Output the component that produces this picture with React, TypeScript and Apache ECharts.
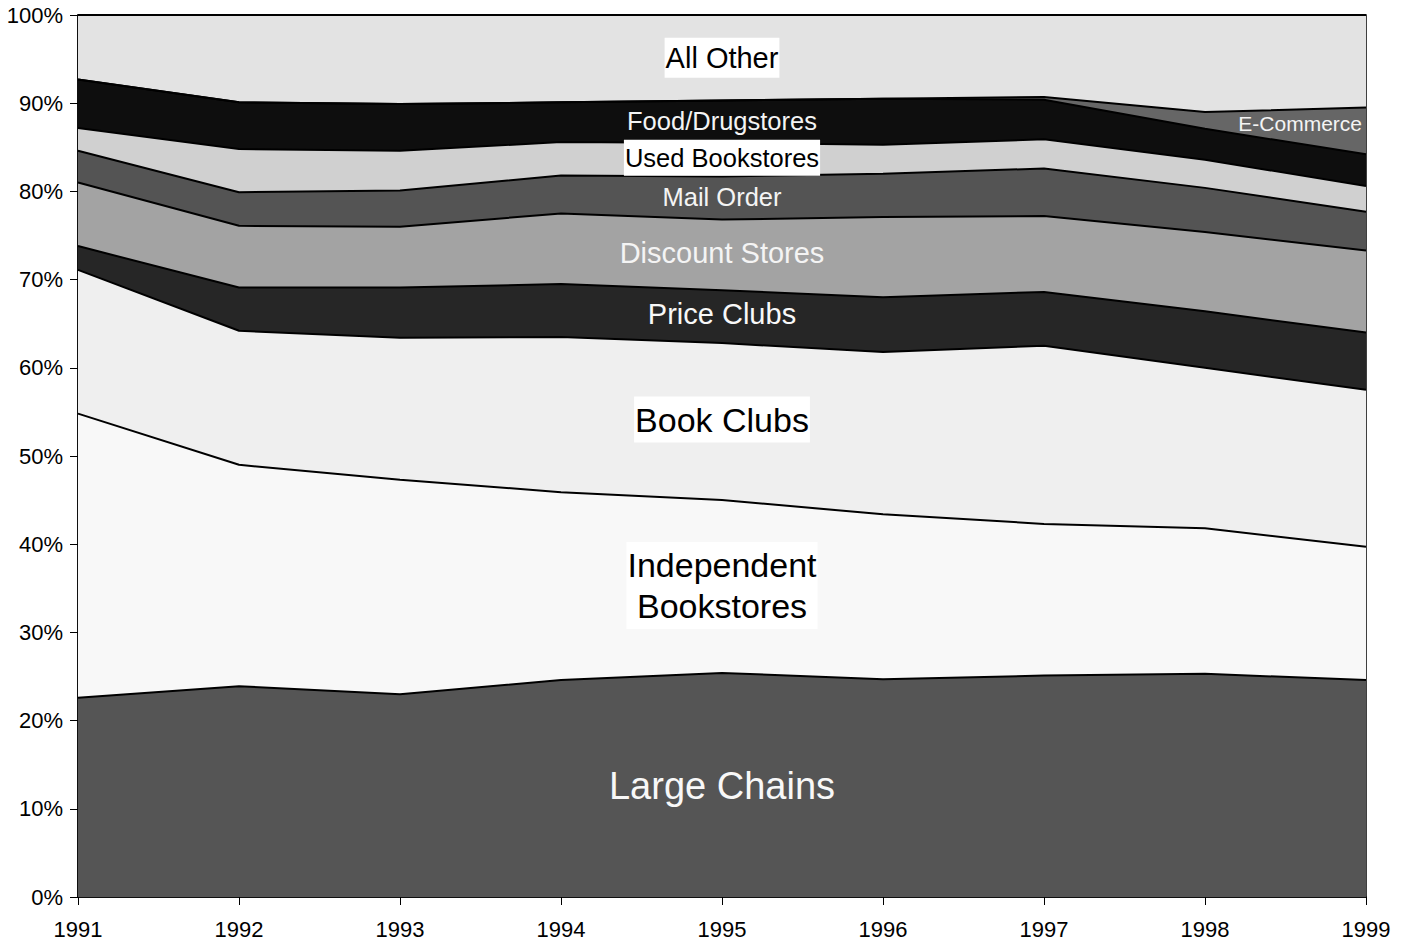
import React, { useEffect, useRef } from "react";
import * as echarts from "echarts";

const years = ["1991", "1992", "1993", "1994", "1995", "1996", "1997", "1998", "1999"];
const largeChains = [22.6, 23.9, 23.0, 24.6, 25.4, 24.7, 25.1, 25.3, 24.6];
const independent = [32.2, 25.1, 24.3, 21.3, 19.6, 18.7, 17.2, 16.5, 15.1];
const bookClubs = [16.3, 15.2, 16.1, 17.6, 17.8, 18.4, 20.2, 18.2, 17.8];
const priceClubs = [2.7, 4.9, 5.7, 6.0, 6.0, 6.2, 6.1, 6.4, 6.5];
const discountStores = [7.2, 7.0, 6.9, 8.0, 8.0, 9.1, 8.6, 9.0, 9.3];
const mailOrder = [3.6, 3.8, 4.1, 4.3, 4.9, 4.9, 5.4, 5.0, 4.4];
const usedBookstores = [2.6, 4.9, 4.5, 3.8, 3.8, 3.3, 3.3, 3.2, 2.9];
const foodDrug = [5.5, 5.3, 5.3, 4.5, 4.8, 5.2, 4.5, 3.5, 3.6];
const eCommerce = [0, 0, 0, 0, 0, 0, 0.3, 1.9, 5.3];
const allOther = [7.3, 9.9, 10.1, 9.9, 9.7, 9.5, 9.3, 11.0, 10.5];
const yTicks = [0, 10, 20, 30, 40, 50, 60, 70, 80, 90, 100];

const FONT = "Liberation Sans, Arial, sans-serif";

type Band = {
  name: string;
  data: number[];
  color: string;
  label: string;
  size: number;
  textColor: string;
  bg?: string;
  dy: number;
};

const bands: Band[] = [
  { name: "Large Chains", data: largeChains, color: "#555555", label: "Large Chains", size: 38, textColor: "#f8f8f8", dy: 1 },
  { name: "Independent Bookstores", data: independent, color: "#f8f8f8", label: "Independent\nBookstores", size: 34, textColor: "#000000", bg: "#ffffff", dy: -1 },
  { name: "Book Clubs", data: bookClubs, color: "#efefef", label: "Book Clubs", size: 34, textColor: "#000000", bg: "#ffffff", dy: -2 },
  { name: "Price Clubs", data: priceClubs, color: "#262626", label: "Price Clubs", size: 29, textColor: "#f8f8f8", dy: -3 },
  { name: "Discount Stores", data: discountStores, color: "#a3a3a3", label: "Discount Stores", size: 29, textColor: "#f4f4f4", dy: -2 },
  { name: "Mail Order", data: mailOrder, color: "#545454", label: "Mail Order", size: 25.5, textColor: "#f4f4f4", dy: -1 },
  { name: "Used Bookstores", data: usedBookstores, color: "#d0d0d0", label: "Used Bookstores", size: 25.5, textColor: "#000000", bg: "#ffffff", dy: -2 },
  { name: "Food/Drugstores", data: foodDrug, color: "#0e0e0e", label: "Food/Drugstores", size: 25.5, textColor: "#f4f4f4", dy: -1 },
  { name: "E-Commerce", data: eCommerce, color: "#666666", label: "E-Commerce", size: 21, textColor: "#f4f4f4", dy: -7 },
  { name: "All Other", data: allOther, color: "#e3e3e3", label: "All Other", size: 29, textColor: "#000000", bg: "#ffffff", dy: 0 },
];

export default function App() {
  const ref = useRef<HTMLDivElement>(null);
  useEffect(() => {
    if (!ref.current) return;
    const chart = echarts.init(ref.current, null, { renderer: "svg" });
    chart.setOption({
      animation: false,
      backgroundColor: "#ffffff",
      grid: {
        left: 78,
        right: 43,
        top: 15,
        bottom: 46,
        show: true,
        borderColor: "#000000",
        borderWidth: 1.5,
        backgroundColor: "transparent",
      },
      xAxis: {
        type: "category",
        data: years,
        boundaryGap: false,
        axisLine: { lineStyle: { color: "#000", width: 1.5 } },
        axisTick: { show: true, length: 8, alignWithLabel: true, lineStyle: { color: "#000" } },
        axisLabel: { color: "#000", fontFamily: FONT, fontSize: 22, margin: 21 },
        splitLine: { show: false },
      },
      yAxis: {
        type: "value",
        min: 0,
        max: 100,
        interval: 10,
        axisLine: { show: true, lineStyle: { color: "#000", width: 1.5 } },
        axisTick: { show: true, length: 8, lineStyle: { color: "#000" } },
        axisLabel: {
          color: "#000",
          fontFamily: FONT,
          fontSize: 22,
          margin: 15,
          formatter: (v: number) => (yTicks.includes(v) ? `${v}%` : ""),
        },
        splitLine: { show: false },
      },
      series: bands.map((b) => ({
        name: b.name,
        type: "line",
        stack: "total",
        data: b.data,
        showSymbol: false,
        symbol: "none",
        lineStyle: { color: "#000000", width: 2 },
        areaStyle: { color: b.color, opacity: 1 },
        z: 2,
      })),
    });

    // labels placed at band mid-points computed from the data
    const cum = (upTo: number, idx: number) => {
      let s = 0;
      for (let i = 0; i < upTo; i++) s += bands[i].data[idx];
      return s;
    };
    const labelIdx = 4;
    const graphics: any[] = [];
    bands.forEach((b, i) => {
      if (b.name === "E-Commerce") return;
      const mid = cum(i, labelIdx) + b.data[labelIdx] / 2;
      const p = chart.convertToPixel({ gridIndex: 0 }, [labelIdx, mid]) as number[];
      graphics.push({
        type: "text",
        x: p[0],
        y: p[1] + b.dy,
        z: 10,
        style: {
          text: b.label,
          fill: b.textColor,
          font: `${b.size}px ${FONT}`,
          align: "center",
          verticalAlign: "middle",
          lineHeight: Math.round(b.size * 1.2),
          backgroundColor: b.bg,
          padding: b.bg ? [3, 1, 2, 1] : 0,
        },
      });
    });
    {
      const i = bands.findIndex((b) => b.name === "E-Commerce");
      const last = years.length - 1;
      const mid = cum(i, last) + bands[i].data[last] / 2;
      const p = chart.convertToPixel({ gridIndex: 0 }, [last, mid]) as number[];
      graphics.push({
        type: "text",
        x: p[0] - 4,
        y: p[1] + bands[i].dy,
        z: 10,
        style: {
          text: bands[i].label,
          fill: bands[i].textColor,
          font: `${bands[i].size}px ${FONT}`,
          align: "right",
          verticalAlign: "middle",
        },
      });
    }
    chart.setOption({ graphic: graphics });
    return () => chart.dispose();
  }, []);
  return (
    <div
      ref={ref}
      style={{ position: "absolute", left: 0, top: 0, width: 1409, height: 943 }}
    />
  );
}
